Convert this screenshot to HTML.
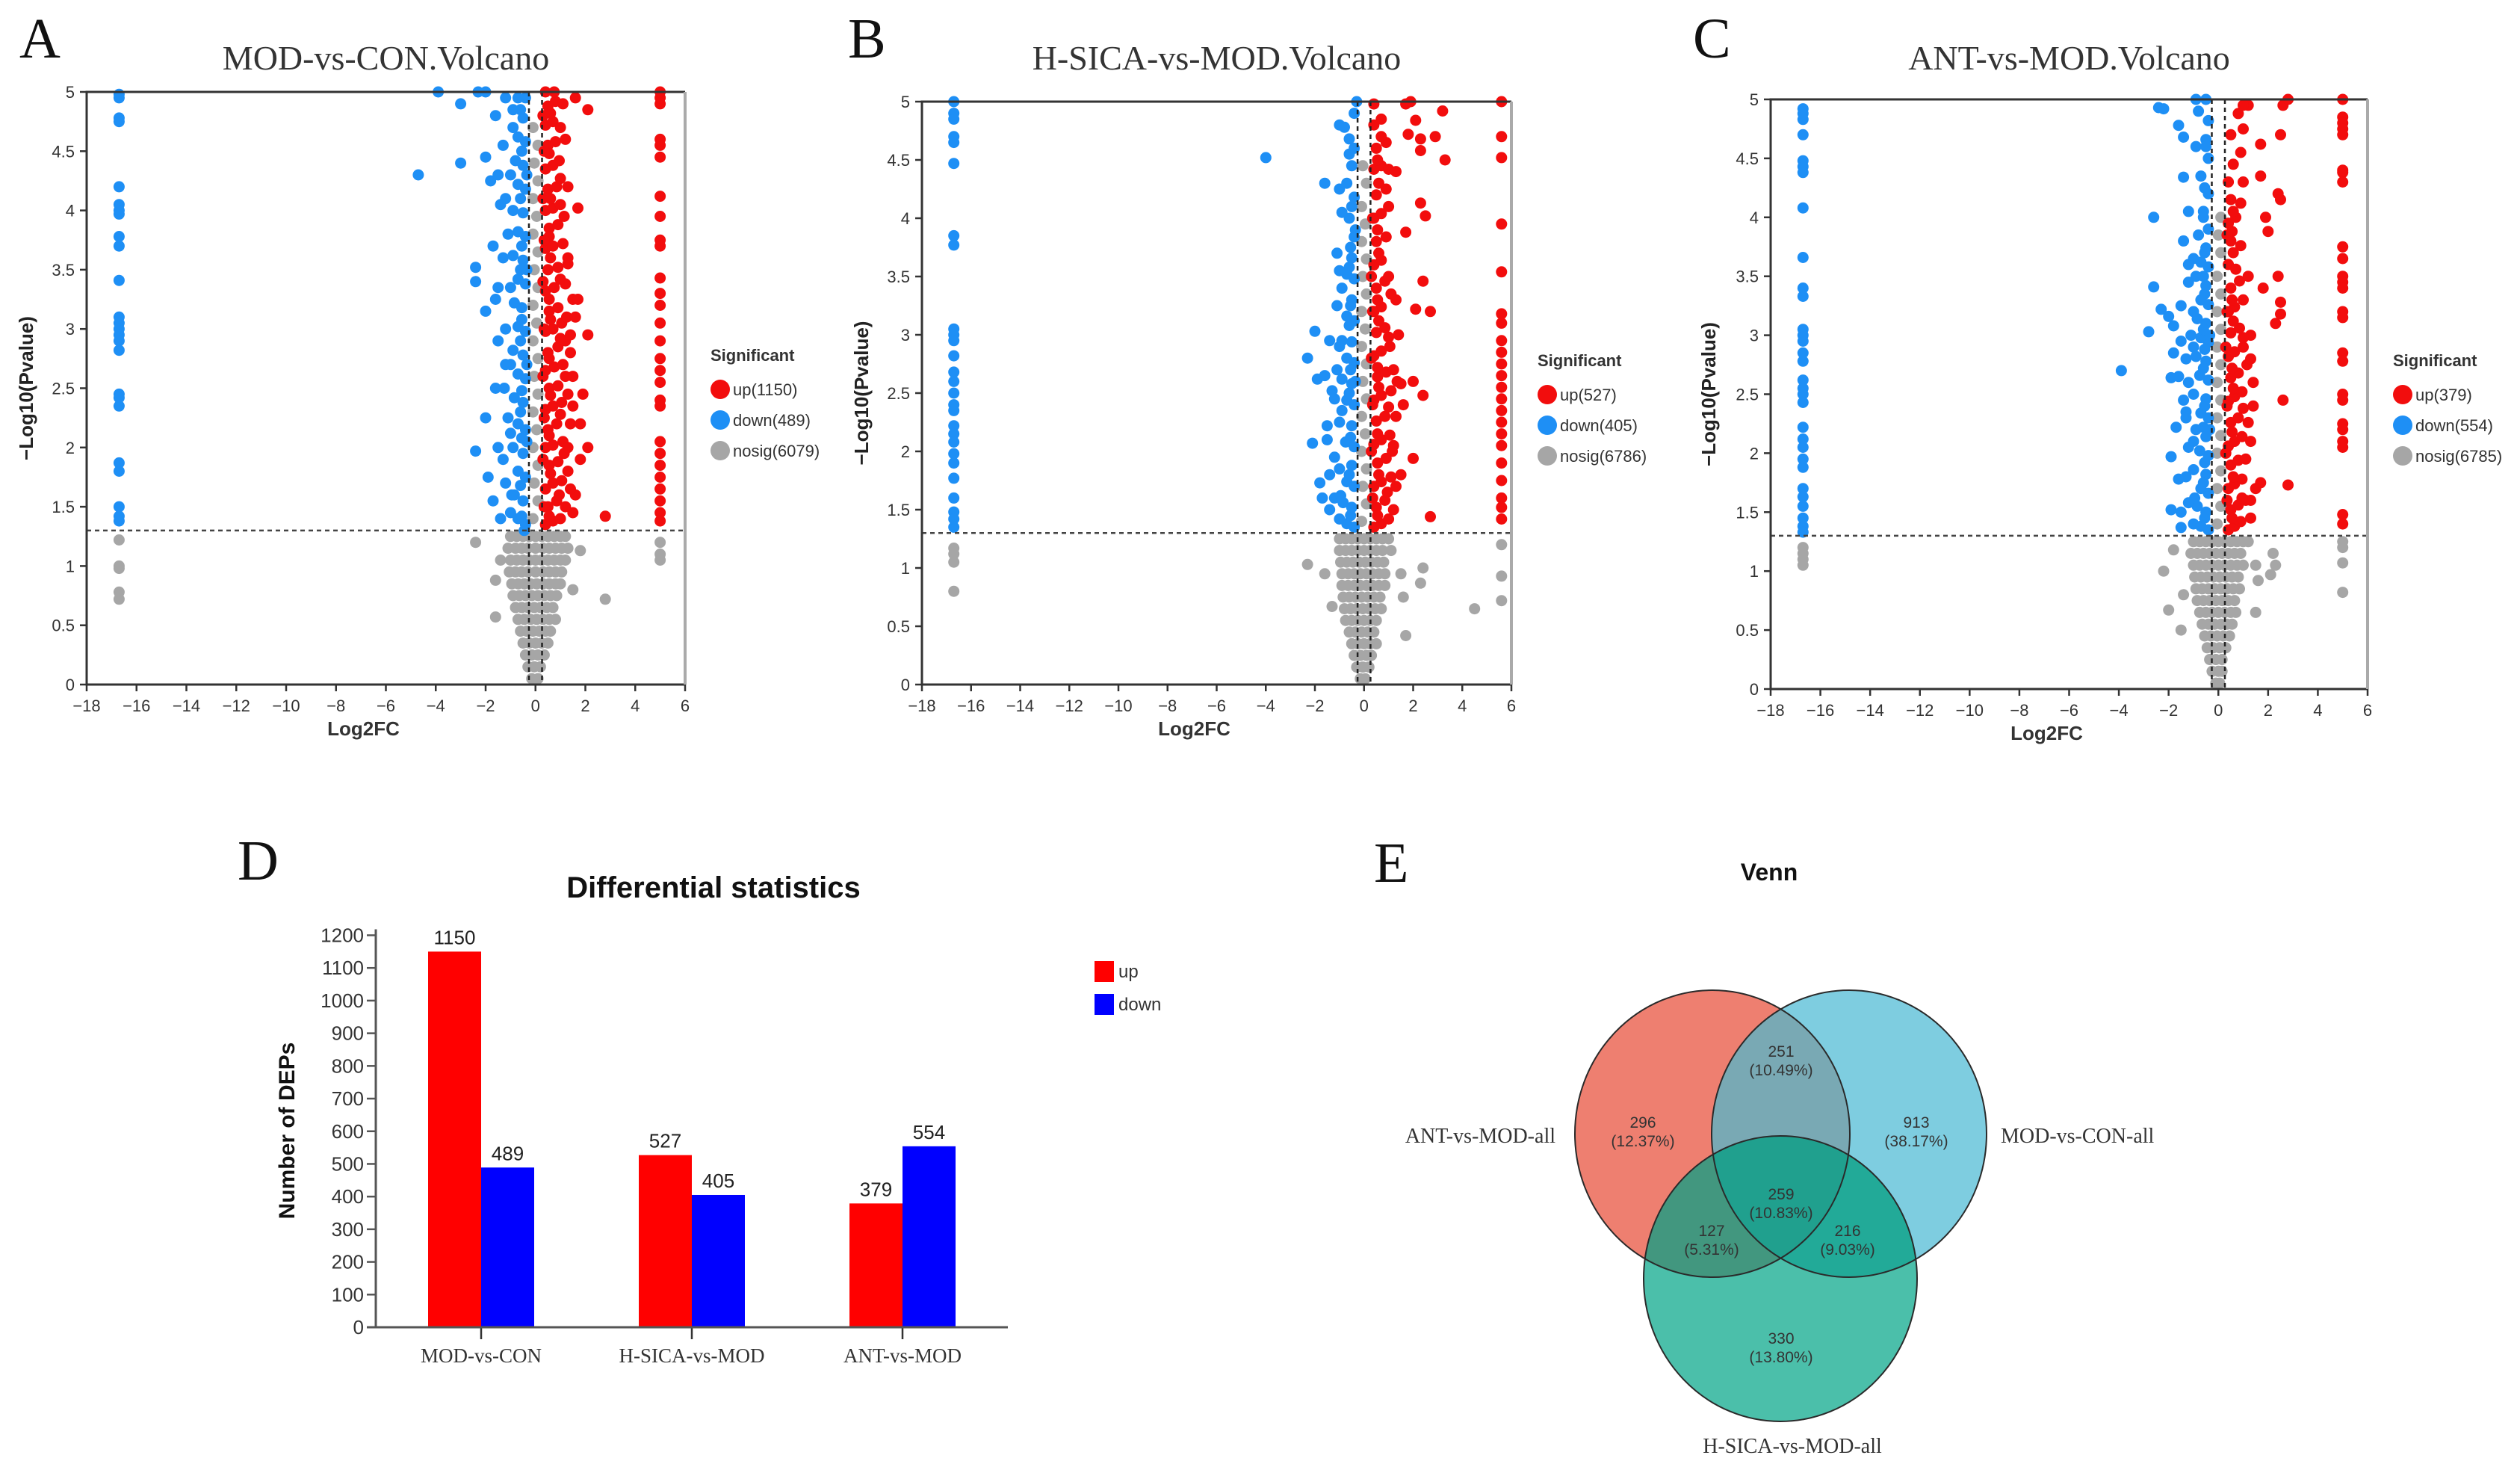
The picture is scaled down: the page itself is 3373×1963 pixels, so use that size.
<!DOCTYPE html>
<html><head><meta charset="utf-8"><style>
html,body{margin:0;padding:0;background:#fff}
svg{display:block}
</style></head><body>
<svg id="fig" xmlns="http://www.w3.org/2000/svg" width="3373" height="1963" viewBox="0 0 3373 1963" font-family="Liberation Sans, sans-serif">
<rect x="0" y="0" width="3373" height="1963" fill="#fff"/>
<g id="gA"></g>
<g id="gB"></g>
<g id="gC"></g>
<g id="gD"></g>
<g id="gE"></g>
</svg>
<script>
// ---------- Volcano data (x=log2FC, y=-log10 p) ----------
const xTicks = [-18,-16,-14,-12,-10,-8,-6,-4,-2,0,2,4,6];
const yTicks = [0,0.5,1,1.5,2,2.5,3,3.5,4,4.5,5];

const aUp = "0.4,1.35 0.7,1.38 1.0,1.4 0.5,1.5 0.85,1.55 1.2,1.5 0.4,1.65 0.7,1.7 1.05,1.72 0.55,1.85 0.9,1.88 1.3,1.8 0.4,2.0 0.7,2.02 1.1,2.05 0.5,2.15 0.85,2.2 1.4,2.2 0.4,2.32 0.7,2.35 1.05,2.38 0.55,2.5 0.9,2.52 1.3,2.45 0.4,2.65 0.75,2.68 1.1,2.7 0.5,2.8 0.9,2.85 1.4,2.8 0.4,2.98 0.7,3.0 1.05,3.05 0.55,3.15 0.9,3.18 1.5,3.25 0.4,3.32 0.75,3.35 1.2,3.38 0.5,3.5 0.9,3.52 0.4,3.68 0.7,3.7 1.1,3.72 0.55,3.85 0.9,3.88 0.4,4.0 0.7,4.02 1.0,4.05 0.5,4.18 0.85,4.2 0.4,4.35 0.7,4.38 0.95,4.42 0.5,4.55 0.8,4.58 1.2,4.6 0.4,4.72 0.7,4.75 0.5,4.88 0.8,4.92 0.4,5 0.75,5 0.55,1.42 0.3,1.9 0.3,2.6 0.3,3.4 0.3,4.1 0.3,4.8 1.2,2.9 1.3,3.6 2.8,1.42 2.1,2.0 1.9,2.45 2.1,2.95 1.7,4.02 1.6,4.95 2.1,4.85 1.6,1.6 1.8,1.9 1.7,3.25 1.8,2.2 1.4,1.65 1.5,2.6 0.55,1.42 0.95,1.6 0.6,1.78 1.15,1.95 0.55,2.1 1.0,2.28 0.6,2.44 1.2,2.6 0.55,2.75 1.0,2.92 0.6,3.08 1.25,3.1 0.55,3.25 1.0,3.42 0.6,3.6 1.3,3.55 0.55,3.78 1.15,3.95 0.6,4.1 1.0,4.27 0.55,4.48 1.0,4.7 0.6,4.82 1.1,4.9 0.35,1.5 0.35,2.25 0.35,3.0 0.35,3.75 0.35,4.5 1.3,2.0 1.5,2.35 1.4,2.95 1.6,3.1 1.3,4.2 1.5,1.45 5,4.9 5,4.95 5,5 5,4.6 5,4.55 5,4.45 5,4.12 5,3.95 5,3.75 5,3.7 5,3.43 5,3.3 5,3.2 5,3.05 5,2.9 5,2.75 5,2.65 5,2.55 5,2.4 5,2.35 5,2.05 5,1.95 5,1.85 5,1.75 5,1.65 5,1.55 5,1.45 5,1.38";
const aDown = "-0.4,1.35 -0.7,1.4 -1.0,1.45 -0.5,1.55 -0.85,1.6 -0.4,1.75 -0.7,1.8 -1.2,1.7 -0.5,1.95 -0.9,2.0 -0.4,2.15 -0.7,2.2 -1.1,2.25 -0.5,2.38 -0.85,2.42 -0.4,2.58 -0.7,2.62 -0.5,2.78 -0.9,2.82 -0.4,2.98 -0.7,3.02 -0.55,3.18 -0.85,3.22 -0.4,3.38 -0.7,3.42 -0.5,3.58 -0.9,3.62 -0.4,3.78 -0.7,3.82 -0.5,3.98 -0.4,4.18 -0.7,4.22 -0.5,4.38 -0.8,4.42 -0.4,4.58 -0.7,4.62 -0.5,4.78 -0.9,4.85 -0.4,4.95 -0.7,4.95 -0.35,2.05 -0.35,2.7 -0.35,3.5 -0.35,4.3 -0.55,1.42 -0.95,1.6 -0.6,1.68 -1.3,1.9 -0.55,2.08 -1.0,2.12 -0.6,2.3 -1.25,2.5 -0.55,2.48 -1.0,2.7 -0.6,2.9 -1.2,3.0 -0.55,3.08 -1.0,3.35 -0.6,3.5 -1.1,3.8 -0.55,3.7 -0.9,4.0 -0.6,4.1 -1.0,4.3 -0.55,4.5 -0.9,4.7 -0.6,4.85 -1.4,1.4 -1.2,2.7 -1.5,2.9 -1.7,3.7 -1.2,4.1 -0.45,1.3 -2.4,1.97 -1.9,1.75 -1.7,1.55 -1.5,2.0 -2.0,2.25 -1.6,2.5 -2.4,3.4 -2.4,3.52 -2.0,3.15 -1.5,3.35 -1.3,3.6 -1.6,3.25 -1.4,4.05 -1.8,4.25 -1.5,4.3 -2.0,4.45 -3.0,4.4 -4.7,4.3 -3.0,4.9 -3.9,5 -2.3,5 -2.0,5 -1.6,4.8 -1.2,4.95 -1.3,4.55 -16.7,4.98 -16.7,4.95 -16.7,4.78 -16.7,4.75 -16.7,4.2 -16.7,4.05 -16.7,4.0 -16.7,3.97 -16.7,3.78 -16.7,3.7 -16.7,3.41 -16.7,3.1 -16.7,3.05 -16.7,3.0 -16.7,2.95 -16.7,2.9 -16.7,2.82 -16.7,2.45 -16.7,2.42 -16.7,2.35 -16.7,1.87 -16.7,1.8 -16.7,1.5 -16.7,1.42 -16.7,1.38";
const aNosig = "-1.0,1.25 -0.75,1.25 -0.5,1.25 -0.25,1.25 0,1.25 0.25,1.25 0.5,1.25 0.75,1.25 1.0,1.25 1.2,1.25 -1.1,1.15 -0.8,1.15 -0.55,1.15 -0.3,1.15 0,1.15 0.3,1.15 0.55,1.15 0.8,1.15 1.05,1.15 1.3,1.15 -1.0,1.05 -0.75,1.05 -0.5,1.05 -0.25,1.05 0,1.05 0.25,1.05 0.5,1.05 0.75,1.05 1.0,1.05 1.2,1.05 -1.05,0.95 -0.8,0.95 -0.55,0.95 -0.3,0.95 0,0.95 0.3,0.95 0.55,0.95 0.8,0.95 1.05,0.95 -0.95,0.85 -0.7,0.85 -0.45,0.85 -0.2,0.85 0.05,0.85 0.3,0.85 0.55,0.85 0.8,0.85 1.0,0.85 -0.9,0.75 -0.65,0.75 -0.4,0.75 -0.15,0.75 0.1,0.75 0.35,0.75 0.6,0.75 0.85,0.75 -0.8,0.65 -0.55,0.65 -0.3,0.65 -0.05,0.65 0.2,0.65 0.45,0.65 0.7,0.65 -0.7,0.55 -0.45,0.55 -0.2,0.55 0.05,0.55 0.3,0.55 0.55,0.55 0.8,0.55 -0.6,0.45 -0.35,0.45 -0.1,0.45 0.15,0.45 0.4,0.45 0.6,0.45 -0.5,0.35 -0.25,0.35 0,0.35 0.25,0.35 0.5,0.35 -0.4,0.25 -0.15,0.25 0.1,0.25 0.35,0.25 -0.3,0.15 -0.05,0.15 0.2,0.15 -0.15,0.05 0.1,0.05 -0.1,1.4 0.1,1.55 -0.05,1.7 0.1,1.85 -0.1,2.0 0.05,2.15 -0.1,2.3 0.1,2.45 -0.05,2.6 0.1,2.75 -0.1,2.9 0.05,3.05 -0.1,3.2 0.1,3.35 -0.05,3.5 0.1,3.65 -0.1,3.8 0.05,3.95 -0.1,4.1 0.1,4.25 -0.05,4.4 0.1,4.55 -0.1,4.7 -2.4,1.2 2.8,0.72 -1.6,0.57 -1.6,0.88 1.8,1.13 -1.4,1.05 1.5,0.8 -16.7,1.22 -16.7,1.0 -16.7,0.98 -16.7,0.78 -16.7,0.72 5,1.2 5,1.1 5,1.05";

const bUp = "0.4,1.35 0.7,1.38 1.0,1.42 0.5,1.52 0.85,1.58 0.4,1.7 0.7,1.74 1.1,1.78 0.55,1.9 0.9,1.94 0.4,2.06 0.7,2.1 1.05,2.14 0.5,2.26 0.85,2.3 0.4,2.44 0.7,2.48 1.1,2.52 0.55,2.64 0.9,2.68 0.4,2.82 0.7,2.86 1.05,2.9 0.5,3.02 0.85,3.06 0.4,3.2 0.7,3.24 1.3,3.3 0.5,3.4 0.85,3.46 0.4,3.6 0.7,3.64 0.5,3.8 0.9,3.84 0.4,4.0 0.7,4.04 0.5,4.2 0.9,4.25 0.4,4.42 0.7,4.45 1.0,4.42 0.5,4.6 0.4,4.8 0.7,4.85 0.4,4.98 0.3,2.0 0.3,2.8 0.3,3.5 1.2,1.5 1.3,2.3 1.4,3.0 1.6,2.4 1.5,1.8 0.55,1.45 0.95,1.65 0.6,1.8 1.15,2.0 0.55,2.15 1.0,2.38 0.6,2.55 1.2,2.7 0.55,2.72 1.0,2.98 0.6,3.12 0.55,3.3 1.0,3.5 0.6,3.7 0.55,3.9 1.0,4.1 0.6,4.3 0.55,4.5 0.9,4.65 0.35,1.6 0.35,2.4 0.35,3.2 0.35,4.0 1.3,1.7 1.2,2.05 1.35,2.6 1.1,3.35 2.7,1.44 2.0,1.94 1.5,2.58 2.4,2.48 2.0,2.6 2.4,3.46 2.1,3.22 2.7,3.2 1.7,3.88 2.3,4.13 2.5,4.02 3.3,4.5 2.3,4.58 2.9,4.7 2.3,4.68 1.8,4.72 2.1,4.84 3.2,4.92 1.7,4.98 1.9,5 0.7,4.7 1.3,4.4 5.6,5 5.6,4.7 5.6,4.52 5.6,3.95 5.6,3.54 5.6,3.18 5.6,3.1 5.6,2.95 5.6,2.85 5.6,2.75 5.6,2.65 5.6,2.55 5.6,2.45 5.6,2.35 5.6,2.25 5.6,2.15 5.6,2.05 5.6,1.9 5.6,1.75 5.6,1.6 5.6,1.52 5.6,1.42";
const bDown = "-0.4,1.35 -0.7,1.38 -1.0,1.42 -0.5,1.52 -0.85,1.56 -1.2,1.6 -0.4,1.7 -0.7,1.74 -0.5,1.88 -1.0,1.85 -0.4,2.04 -0.75,2.08 -0.5,2.22 -1.0,2.25 -0.4,2.4 -0.7,2.44 -0.5,2.58 -0.9,2.62 -0.4,2.76 -0.7,2.8 -0.5,2.94 -1.0,2.9 -0.4,3.12 -0.7,3.16 -0.5,3.3 -0.4,3.48 -0.7,3.52 -0.5,3.66 -0.4,3.84 -0.6,4.0 -0.4,4.18 -0.7,4.3 -0.5,4.45 -0.4,4.6 -0.8,4.78 -0.4,4.9 -0.35,2.6 -0.35,3.9 -0.55,1.45 -0.95,1.62 -0.6,1.8 -1.2,1.95 -0.55,2.12 -0.9,2.35 -0.6,2.5 -1.2,2.45 -0.55,2.7 -0.9,2.95 -0.6,3.08 -0.55,3.25 -0.9,3.4 -0.6,3.58 -0.55,3.75 -0.5,4.1 -0.6,4.55 -1.4,1.5 -1.5,2.1 -1.1,2.7 -1.8,1.73 -1.7,1.6 -1.4,1.8 -2.1,2.07 -1.5,2.22 -1.3,2.52 -1.6,2.65 -2.3,2.8 -1.9,2.62 -2.0,3.03 -1.4,2.95 -1.1,3.25 -1.0,3.55 -1.1,3.7 -1.6,4.3 -1.0,4.25 -0.9,4.05 -1.0,4.8 -0.6,4.68 -0.3,5 -4.0,4.52 -16.7,5 -16.7,4.9 -16.7,4.85 -16.7,4.7 -16.7,4.65 -16.7,4.47 -16.7,3.85 -16.7,3.77 -16.7,3.05 -16.7,3.0 -16.7,2.95 -16.7,2.82 -16.7,2.68 -16.7,2.6 -16.7,2.5 -16.7,2.4 -16.7,2.35 -16.7,2.22 -16.7,2.15 -16.7,2.08 -16.7,1.98 -16.7,1.9 -16.7,1.77 -16.7,1.6 -16.7,1.48 -16.7,1.42 -16.7,1.35";
const bNosig = "-1.0,1.25 -0.75,1.25 -0.5,1.25 -0.25,1.25 0,1.25 0.25,1.25 0.5,1.25 0.75,1.25 1.0,1.25 -1.0,1.15 -0.75,1.15 -0.5,1.15 -0.25,1.15 0,1.15 0.25,1.15 0.5,1.15 0.75,1.15 1.1,1.15 -0.95,1.05 -0.7,1.05 -0.45,1.05 -0.2,1.05 0.05,1.05 0.3,1.05 0.55,1.05 0.8,1.05 -0.9,0.95 -0.65,0.95 -0.4,0.95 -0.15,0.95 0.1,0.95 0.35,0.95 0.6,0.95 0.85,0.95 -0.9,0.85 -0.65,0.85 -0.4,0.85 -0.15,0.85 0.1,0.85 0.35,0.85 0.6,0.85 0.85,0.85 -0.85,0.75 -0.6,0.75 -0.35,0.75 -0.1,0.75 0.15,0.75 0.4,0.75 0.65,0.75 -0.8,0.65 -0.55,0.65 -0.3,0.65 -0.05,0.65 0.2,0.65 0.45,0.65 0.7,0.65 -0.75,0.55 -0.5,0.55 -0.25,0.55 0,0.55 0.25,0.55 0.5,0.55 -0.6,0.45 -0.35,0.45 -0.1,0.45 0.15,0.45 0.4,0.45 -0.5,0.35 -0.25,0.35 0,0.35 0.25,0.35 0.5,0.35 -0.4,0.25 -0.15,0.25 0.1,0.25 0.3,0.25 -0.3,0.15 -0.05,0.15 0.2,0.15 -0.15,0.05 0.05,0.05 -0.1,1.4 0.1,1.55 -0.05,1.7 0.1,1.85 -0.1,2.0 0.05,2.15 -0.1,2.3 0.1,2.45 -0.05,2.6 0.1,2.75 -0.1,2.9 0.05,3.05 -0.1,3.2 0.1,3.35 -0.05,3.5 0.1,3.65 -0.1,3.8 0.05,3.95 -0.1,4.1 0.1,4.3 -0.05,4.45 -2.3,1.03 -1.6,0.95 1.5,0.95 2.4,1.0 2.3,0.87 1.6,0.75 1.7,0.42 4.5,0.65 -1.3,0.67 -16.7,1.17 -16.7,1.12 -16.7,1.05 -16.7,0.8 5.6,1.2 5.6,0.93 5.6,0.72";

const cUp = "0.4,1.35 0.65,1.38 0.9,1.42 0.5,1.52 0.8,1.56 1.1,1.6 0.4,1.7 0.65,1.74 0.95,1.78 0.5,1.9 0.8,1.94 0.4,2.06 0.65,2.1 0.95,2.14 0.5,2.26 0.8,2.3 1.2,2.26 0.4,2.44 0.65,2.48 0.95,2.52 0.5,2.64 0.8,2.68 0.4,2.82 0.65,2.86 1.0,2.9 0.5,3.02 0.85,3.06 1.3,3.0 0.4,3.2 0.65,3.24 0.5,3.4 0.85,3.46 0.4,3.6 0.7,3.56 1.2,3.5 0.5,3.8 0.9,3.76 0.4,3.95 0.7,4.0 0.5,4.15 0.9,4.12 0.4,4.3 0.6,4.45 0.9,4.55 0.5,4.7 1.0,4.75 0.8,4.88 1.2,4.95 1.0,4.95 0.3,2.0 0.3,2.9 1.3,2.1 1.4,2.6 1.5,1.7 1.3,1.6 0.55,1.45 0.95,1.62 0.6,1.8 1.1,1.95 0.55,2.18 1.0,2.38 0.6,2.55 1.15,2.75 0.55,2.72 1.0,2.98 0.6,3.12 0.55,3.3 1.0,3.3 0.6,3.7 0.55,3.88 1.0,4.3 0.6,4.05 0.35,1.6 0.35,2.4 0.35,3.2 0.35,3.85 1.3,1.45 1.4,2.4 1.3,2.8 1.7,1.75 2.8,1.73 2.6,2.45 1.8,3.4 2.4,3.5 2.5,3.28 2.5,3.18 2.3,3.1 2.4,4.2 2.5,4.15 1.7,4.35 1.9,4.0 2.0,3.88 1.7,4.62 2.5,4.7 2.6,4.95 2.8,5 5,5 5,4.85 5,4.8 5,4.75 5,4.7 5,4.4 5,4.38 5,4.3 5,3.75 5,3.65 5,3.5 5,3.45 5,3.4 5,3.2 5,3.15 5,2.85 5,2.78 5,2.5 5,2.45 5,2.25 5,2.2 5,2.1 5,2.05 5,1.48 5,1.4";
const cDown = "-0.4,1.35 -0.7,1.38 -1.0,1.4 -0.5,1.5 -0.85,1.55 -1.2,1.58 -0.4,1.66 -0.7,1.7 -0.5,1.82 -1.0,1.86 -0.4,1.98 -0.75,2.02 -1.2,2.05 -0.5,2.14 -0.9,2.2 -0.4,2.3 -0.7,2.34 -0.5,2.46 -1.0,2.5 -0.4,2.62 -0.75,2.66 -0.5,2.78 -0.9,2.82 -0.4,2.94 -0.7,2.98 -1.1,3.0 -0.5,3.1 -0.85,3.14 -0.4,3.26 -0.7,3.3 -0.5,3.42 -0.4,3.58 -0.7,3.62 -0.5,3.74 -0.8,3.85 -0.4,3.9 -0.6,4.05 -0.4,4.2 -0.7,4.35 -0.4,4.5 -0.5,4.66 -0.4,4.82 -0.35,2.2 -0.35,3.0 -0.55,1.45 -0.95,1.62 -0.6,1.75 -1.3,1.8 -0.55,1.92 -1.0,2.1 -0.6,2.22 -1.3,2.3 -0.55,2.4 -1.2,2.6 -0.6,2.72 -1.3,2.8 -0.55,2.88 -1.0,2.9 -0.6,3.05 -1.0,3.2 -0.55,3.35 -0.9,3.5 -0.6,3.5 -0.55,3.7 -1.0,3.65 -0.6,4.0 -0.55,4.25 -0.5,4.6 -1.5,1.5 -1.4,2.45 -1.2,3.45 -1.5,1.37 -1.9,1.52 -1.6,1.78 -1.9,1.97 -1.7,2.22 -1.3,2.35 -1.9,2.64 -1.6,2.65 -1.8,2.85 -1.5,2.95 -2.8,3.03 -1.8,3.08 -2.0,3.16 -2.3,3.22 -1.5,3.25 -2.6,3.41 -1.2,3.6 -1.4,3.8 -2.6,4.0 -1.2,4.05 -1.4,4.34 -1.4,4.68 -0.9,4.6 -1.6,4.78 -2.2,4.92 -2.4,4.93 -0.8,4.9 -0.9,5 -0.5,5 -3.9,2.7 -16.7,4.92 -16.7,4.88 -16.7,4.83 -16.7,4.7 -16.7,4.48 -16.7,4.43 -16.7,4.38 -16.7,4.08 -16.7,3.66 -16.7,3.4 -16.7,3.33 -16.7,3.05 -16.7,3.0 -16.7,2.95 -16.7,2.85 -16.7,2.78 -16.7,2.62 -16.7,2.55 -16.7,2.5 -16.7,2.43 -16.7,2.22 -16.7,2.12 -16.7,2.05 -16.7,1.95 -16.7,1.88 -16.7,1.7 -16.7,1.63 -16.7,1.55 -16.7,1.45 -16.7,1.38 -16.7,1.33";
const cNosig = "-1.0,1.25 -0.75,1.25 -0.5,1.25 -0.25,1.25 0,1.25 0.25,1.25 0.5,1.25 0.75,1.25 1.0,1.25 1.2,1.25 -1.1,1.15 -0.85,1.15 -0.6,1.15 -0.35,1.15 -0.1,1.15 0.15,1.15 0.4,1.15 0.65,1.15 0.9,1.15 -1.0,1.05 -0.75,1.05 -0.5,1.05 -0.25,1.05 0,1.05 0.25,1.05 0.5,1.05 0.75,1.05 1.0,1.05 -0.95,0.95 -0.7,0.95 -0.45,0.95 -0.2,0.95 0.05,0.95 0.3,0.95 0.55,0.95 0.8,0.95 -0.9,0.85 -0.65,0.85 -0.4,0.85 -0.15,0.85 0.1,0.85 0.35,0.85 0.6,0.85 0.85,0.85 -0.85,0.75 -0.6,0.75 -0.35,0.75 -0.1,0.75 0.15,0.75 0.4,0.75 0.65,0.75 -0.75,0.65 -0.5,0.65 -0.25,0.65 0,0.65 0.25,0.65 0.5,0.65 0.7,0.65 -0.65,0.55 -0.4,0.55 -0.15,0.55 0.1,0.55 0.35,0.55 0.55,0.55 -0.55,0.45 -0.3,0.45 -0.05,0.45 0.2,0.45 0.45,0.45 -0.45,0.35 -0.2,0.35 0.05,0.35 0.3,0.35 -0.35,0.25 -0.1,0.25 0.15,0.25 -0.25,0.15 0,0.15 0.15,0.15 -0.1,0.05 0.05,0.05 -0.05,1.4 0.1,1.55 -0.05,1.7 0.1,1.85 -0.05,2.0 0.1,2.15 -0.05,2.3 0.1,2.45 -0.05,2.6 0.1,2.75 -0.05,2.9 0.1,3.05 -0.05,3.2 0.1,3.35 -0.05,3.5 0.1,3.7 0.0,3.85 0.1,4.0 -2.2,1.0 -1.8,1.18 -2.0,0.67 -1.5,0.5 -1.4,0.8 1.5,1.05 2.2,1.15 2.3,1.05 2.1,0.97 1.6,0.92 1.5,0.65 -16.7,1.2 -16.7,1.15 -16.7,1.1 -16.7,1.05 5,1.25 5,1.2 5,1.07 5,0.82";

// ---------- Bar chart data ----------
const barCategories = ["MOD-vs-CON","H-SICA-vs-MOD","ANT-vs-MOD"];
const barUp = [1150,527,379];
const barDown = [489,405,554];
const barTicks = [0,100,200,300,400,500,600,700,800,900,1000,1100,1200];

// ---------- Venn labels ----------
const vennSets = ["ANT-vs-MOD-all","MOD-vs-CON-all","H-SICA-vs-MOD-all"];
const vennCounts = ["296","251","913","259","127","216","330"];
const vennPcts = ["(12.37%)","(10.49%)","(38.17%)","(10.83%)","(5.31%)","(9.03%)","(13.80%)"];

const NS = "http://www.w3.org/2000/svg";
function mk(parent, tag, attrs, text){
  const e = document.createElementNS(NS, tag);
  for (const k in attrs) e.setAttribute(k, attrs[k]);
  if (text !== undefined) e.textContent = text;
  parent.appendChild(e);
  return e;
}
function parsePts(s){ return s.trim().split(/\s+/).map(p=>p.split(",").map(Number)); }
function fmtTick(v){ return v < 0 ? "\u2212" + Math.abs(v) : String(v); }

function volcano(g, cfg){
  const L=cfg.L, R=cfg.R, T=cfg.T, B=cfg.B;
  const sx = v => L + (v - (-18)) / 24 * (R - L);
  const sy = v => B - v / 5 * (B - T);
  let t;
  t = mk(g,"text",{x:cfg.letterX,y:cfg.letterY,"font-family":"Liberation Serif, serif","font-size":76,fill:"#111"},cfg.letter);
  
  
  t = mk(g,"text",{x:(L+R)/2,y:93,"text-anchor":"middle","font-family":"Liberation Serif, serif","font-size":46,fill:"#333"},cfg.title);
  
  
  const layers = [[cfg.nosig,"#a6a6a6","nosig-point"],[cfg.down,"#1e8ff5","down-point"],[cfg.up,"#f20d0d","up-point"]];
  for (const [s,col,name] of layers){
    for (const [x,y] of parsePts(s)){
      const c = mk(g,"circle",{cx:sx(x).toFixed(1),cy:sy(y).toFixed(1),r:7.5,fill:col});
      
      
    }
  }
  let ln = mk(g,"line",{x1:L,x2:R,y1:sy(1.3),y2:sy(1.3),stroke:"#444","stroke-width":2.5,"stroke-dasharray":"6,5"});
  
  
  for (const xv of [-0.263,0.263]){
    ln = mk(g,"line",{x1:sx(xv),x2:sx(xv),y1:T,y2:B,stroke:"#222","stroke-width":2.5,"stroke-dasharray":"6,5"});
    
    
  }
  const fr = mk(g,"path",{d:`M${R},${T} L${L},${T} L${L},${B} L${R},${B}`,fill:"none",stroke:"#333","stroke-width":3});
  
  
  const fr2 = mk(g,"line",{x1:R,x2:R,y1:T,y2:B,stroke:"#aaa","stroke-width":4});
  
  
  for (const v of xTicks){
    const x = sx(v);
    const tk = mk(g,"line",{x1:x,x2:x,y1:B,y2:B+9,stroke:"#333","stroke-width":2.5});
    
    
    const tl = mk(g,"text",{x:x,y:B+36,"text-anchor":"middle","font-size":22,fill:"#333"},fmtTick(v));
    
    
  }
  for (const v of yTicks){
    const y = sy(v);
    const tk = mk(g,"line",{x1:L-9,x2:L,y1:y,y2:y,stroke:"#333","stroke-width":2.5});
    
    
    const tl = mk(g,"text",{x:L-16,y:y+8,"text-anchor":"end","font-size":22,fill:"#333"},String(v));
    
    
  }
  t = mk(g,"text",{x:(L+R)/2 - 30,y:B+68,"text-anchor":"middle","font-size":26,"font-weight":"bold",fill:"#333"},"Log2FC");
  
  
  t = mk(g,"text",{x:0,y:0,"text-anchor":"middle","font-size":26,"font-weight":"bold",fill:"#222",transform:`translate(${cfg.ylabX},${(T+B)/2}) rotate(-90)`},"\u2212Log10(Pvalue)");
  
  
  t = mk(g,"text",{x:cfg.legX,y:cfg.legY,"font-size":22,"font-weight":"bold",fill:"#333"},"Significant");
  
  
  const items=[["#f20d0d",cfg.legUp],["#1e8ff5",cfg.legDown],["#a6a6a6",cfg.legNo]];
  items.forEach(([col,lab],i)=>{
    const cy = cfg.legY + 38 + i*41;
    const c = mk(g,"circle",{cx:cfg.legX+13,cy:cy,r:13,fill:col});
    
    
    const tx = mk(g,"text",{x:cfg.legX+30,y:cy+8,"font-size":22,fill:"#333"},lab);
    
    
  });
}

volcano(document.getElementById("gA"),{L:116,R:917,T:123,B:916,letter:"A",letterX:26,letterY:77,title:"MOD-vs-CON.Volcano",ylabX:44,legX:951,legY:483,legUp:"up(1150)",legDown:"down(489)",legNo:"nosig(6079)",up:aUp,down:aDown,nosig:aNosig});
volcano(document.getElementById("gB"),{L:1234,R:2023,T:136,B:916,letter:"B",letterX:1135,letterY:77,title:"H-SICA-vs-MOD.Volcano",ylabX:1162,legX:2058,legY:490,legUp:"up(527)",legDown:"down(405)",legNo:"nosig(6786)",up:bUp,down:bDown,nosig:bNosig});
volcano(document.getElementById("gC"),{L:2370,R:3169,T:133,B:922,letter:"C",letterX:2266,letterY:77,title:"ANT-vs-MOD.Volcano",ylabX:2296,legX:3203,legY:490,legUp:"up(379)",legDown:"down(554)",legNo:"nosig(6785)",up:cUp,down:cDown,nosig:cNosig});

// ---------- Bar chart ----------
(function(){
  const g = document.getElementById("gD");
  const L=503, R=1349, B=1776, T=1251.5;
  const sy = v => B - v/1200*(B-T);
  const centers = [644, 926, 1208];
  const bw = 71;
  let t = mk(g,"text",{x:318,y:1177,"font-family":"Liberation Serif, serif","font-size":76,fill:"#111"},"D");
  
  
  t = mk(g,"text",{x:955,y:1201,"text-anchor":"middle","font-size":40,"font-weight":"bold",fill:"#111"},"Differential statistics");
  
  
  barCategories.forEach((cat,i)=>{
    const cx = centers[i];
    const ru = mk(g,"rect",{x:cx-bw,y:sy(barUp[i]),width:bw,height:B-sy(barUp[i]),fill:"#ff0000"});
    
    
    const rd = mk(g,"rect",{x:cx,y:sy(barDown[i]),width:bw,height:B-sy(barDown[i]),fill:"#0000ff"});
    
    
    let v = mk(g,"text",{x:cx-bw/2,y:sy(barUp[i])-10,"text-anchor":"middle","font-size":26,fill:"#222"},String(barUp[i]));
    
    
    v = mk(g,"text",{x:cx+bw/2,y:sy(barDown[i])-10,"text-anchor":"middle","font-size":26,fill:"#222"},String(barDown[i]));
    
    
    const tk = mk(g,"line",{x1:cx,x2:cx,y1:B,y2:B+16,stroke:"#333","stroke-width":2.5});
    
    
    const cl = mk(g,"text",{x:cx,y:1823,"text-anchor":"middle","font-family":"Liberation Serif, serif","font-size":27,fill:"#333"},cat);
    
    
  });
  let ax = mk(g,"line",{x1:L,x2:L,y1:T-8,y2:B,stroke:"#555","stroke-width":3});
  
  
  ax = mk(g,"line",{x1:L-12,x2:R,y1:B,y2:B,stroke:"#555","stroke-width":3});
  
  
  barTicks.forEach(v=>{
    const y = sy(v);
    const tk = mk(g,"line",{x1:L-12,x2:L,y1:y,y2:y,stroke:"#555","stroke-width":2.5});
    
    
    const tl = mk(g,"text",{x:L-16,y:y+9,"text-anchor":"end","font-size":26,fill:"#333"},String(v));
    
    
  });
  t = mk(g,"text",{x:0,y:0,"text-anchor":"middle","font-size":30,"font-weight":"bold",fill:"#111",transform:"translate(394,1513) rotate(-90)"},"Number of DEPs");
  
  
  [["#ff0000","up",1286],["#0000ff","down",1330]].forEach(([c,lab,y])=>{
    const r = mk(g,"rect",{x:1465,y:y,width:26,height:28,fill:c});
    
    
    const tx = mk(g,"text",{x:1497,y:y+22,"font-size":24,fill:"#333"},lab);
    
    
  });
})();

// ---------- Venn ----------
(function(){
  const g = document.getElementById("gE");
  let t = mk(g,"text",{x:1839,y:1180,"font-family":"Liberation Serif, serif","font-size":76,fill:"#111"},"E");
  
  
  t = mk(g,"text",{x:2368,y:1178,"text-anchor":"middle","font-size":32,"font-weight":"bold",fill:"#111"},"Venn");
  
  
  const A={cx:2292,cy:1517,rx:184,ry:192}, Bc={cx:2475,cy:1517,rx:184,ry:192}, C={cx:2383,cy:1711,rx:183,ry:191};
  const defs = mk(g,"defs",{});
  const mkClip=(id,c)=>{const cp=mk(defs,"clipPath",{id:id}); mk(cp,"ellipse",{cx:c.cx,cy:c.cy,rx:c.rx,ry:c.ry}); return cp;};
  mkClip("clA",A); mkClip("clB",Bc); mkClip("clC",C);
  const ell=(c,fill,clip,name)=>{const e=mk(g,"ellipse",{cx:c.cx,cy:c.cy,rx:c.rx,ry:c.ry,fill:fill}); if(clip) e.setAttribute("clip-path","url(#"+clip+")");   return e;};
  ell(A,"#ee7f70",null,"venn-set-ant");
  ell(Bc,"#7ecde0",null,"venn-set-mod-con");
  ell(C,"#4bbfaa",null,"venn-set-hsica");
  ell(Bc,"#79a9b4","clA","venn-overlap-ant-modcon");
  ell(C,"#42977f","clA","venn-overlap-ant-hsica");
  ell(C,"#22aa98","clB","venn-overlap-modcon-hsica");
  const gTriple = mk(g,"g",{"clip-path":"url(#clA)"});
  
  
  const gT2 = mk(gTriple,"g",{"clip-path":"url(#clB)"});
  const tri = mk(gT2,"ellipse",{cx:C.cx,cy:C.cy,rx:C.rx,ry:C.ry,fill:"#20a08e"});
  
  
  for (const c of [A,Bc,C]){
    const o = mk(g,"ellipse",{cx:c.cx,cy:c.cy,rx:c.rx,ry:c.ry,fill:"none",stroke:"#2a2a2a","stroke-width":2});
    
    
  }
  const pos=[[2199,1509],[2384,1414],[2565,1509],[2384,1605],[2291,1654],[2473,1654],[2384,1798]];
  vennCounts.forEach((n,i)=>{
    const [x,y]=pos[i];
    let a = mk(g,"text",{x:x,y:y,"text-anchor":"middle","font-size":21,fill:"#333"},n);
    
    
    a = mk(g,"text",{x:x,y:y+25,"text-anchor":"middle","font-size":21,fill:"#333"},vennPcts[i]);
    
    
  });
  t = mk(g,"text",{x:2082,y:1529,"text-anchor":"end","font-family":"Liberation Serif, serif","font-size":28,fill:"#333"},vennSets[0]);
  
  
  t = mk(g,"text",{x:2678,y:1529,"font-family":"Liberation Serif, serif","font-size":28,fill:"#333"},vennSets[1]);
  
  
  t = mk(g,"text",{x:2399,y:1944,"text-anchor":"middle","font-family":"Liberation Serif, serif","font-size":28,fill:"#333"},vennSets[2]);
  
  
})();
</script>
</body></html>
